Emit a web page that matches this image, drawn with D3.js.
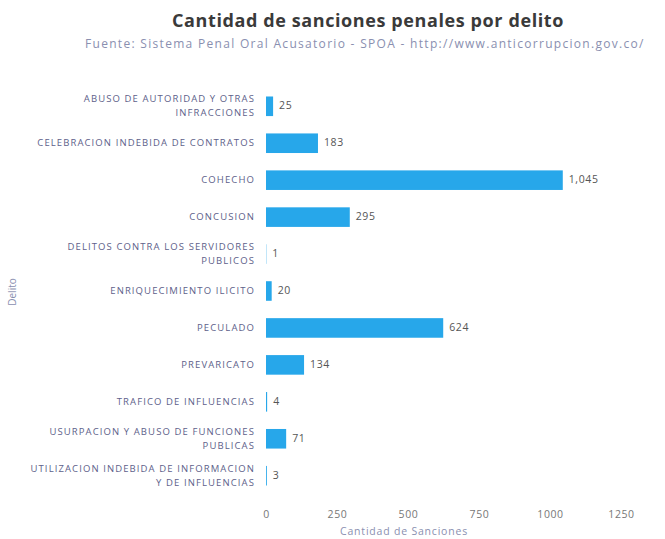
<!DOCTYPE html>
<html>
<head>
<meta charset="utf-8">
<script src="https://cdn.jsdelivr.net/npm/d3@7"></script>
<style>
  body { margin: 0; background: #fff; }
  svg { font-family: "Open Sans", "DejaVu Sans", sans-serif; }
</style>
</head>
<body>
<svg id="chart" width="665" height="539"></svg>
<script>
// Sanciones penales por delito
const categories = [
    'ABUSO DE AUTORIDAD Y OTRAS INFRACCIONES',
    'CELEBRACION INDEBIDA DE CONTRATOS',
    'COHECHO',
    'CONCUSION',
    'DELITOS CONTRA LOS SERVIDORES PUBLICOS',
    'ENRIQUECIMIENTO ILICITO',
    'PECULADO',
    'PREVARICATO',
    'TRAFICO DE INFLUENCIAS',
    'USURPACION Y ABUSO DE FUNCIONES PUBLICAS',
    'UTILIZACION INDEBIDA DE INFORMACION Y DE INFLUENCIAS'
];
const sanciones = [25, 183, 1045, 295, 1, 20, 624, 134, 4, 71, 3];
const xTicks = [0, 250, 500, 750, 1000, 1250];

const svg = d3.select('#chart');
const width = 665;
const height = 539;
const margin = { top: 88, right: 44, bottom: 45, left: 266 };
const plotWidth = width - margin.left - margin.right;
const plotHeight = height - margin.top - margin.bottom;
const barColor = '#27a7ea';
const labelColor = '#5e5f8a';

// Title + subtitle
svg.append('text')
    .attr('x', 368)
    .attr('y', 27)
    .attr('text-anchor', 'middle')
    .attr('font-size', '18px')
    .attr('font-weight', 'bold')
    .attr('letter-spacing', '0.6px')
    .attr('fill', '#3a3a3a')
    .text('Cantidad de sanciones penales por delito');

svg.append('text')
    .attr('x', 85)
    .attr('y', 48)
    .attr('font-size', '12px')
    .attr('letter-spacing', '1.3px')
    .attr('fill', '#8a8fb0')
    .text('Fuente: Sistema Penal Oral Acusatorio - SPOA - http://www.anticorrupcion.gov.co/');

const g = svg.append('g')
    .attr('transform', `translate(${margin.left}, ${margin.top})`);

const xScale = d3.scaleLinear()
    .domain([0, 1250])
    .range([0, plotWidth]);

const yScale = d3.scaleBand()
    .domain(categories)
    .range([0, plotHeight])
    .paddingInner(0.47)
    .paddingOuter(0.23);

// x axis (labels only)
const xAxis = g.append('g')
    .attr('transform', `translate(0, ${plotHeight})`)
    .call(d3.axisBottom(xScale).tickValues(xTicks).tickFormat(d3.format('d')).tickSize(0).tickPadding(17));
xAxis.select('.domain').remove();
xAxis.selectAll('text')
    .attr('font-family', '"Open Sans", sans-serif')
    .attr('font-size', '10.5px')
    .attr('letter-spacing', '0.6px')
    .attr('fill', '#777');

g.append('text')
    .attr('x', xScale(500) - 4)
    .attr('y', plotHeight + 41)
    .attr('text-anchor', 'middle')
    .attr('font-size', '10.5px')
    .attr('letter-spacing', '0.8px')
    .attr('fill', '#8a8fb0')
    .text('Cantidad de Sanciones');

// y axis title
svg.append('text')
    .attr('transform', 'rotate(-90)')
    .attr('x', -292)
    .attr('y', 16)
    .attr('text-anchor', 'middle')
    .attr('font-size', '10px')
    .attr('fill', '#8a8fb0')
    .text('Delito');

// category labels, wrapped
const maxLabelWidth = 232;
const catLabels = g.append('g');
categories.forEach(cat => {
    const t = catLabels.append('text')
        .attr('x', -11)
        .attr('text-anchor', 'end')
        .attr('font-size', '9.5px')
        .attr('letter-spacing', '1.1px')
        .attr('fill', labelColor);
    const words = cat.split(' ');
    const lines = [];
    let line = [];
    const probe = t.append('tspan');
    words.forEach(w => {
        line.push(w);
        probe.text(line.join(' '));
        if (probe.node().getComputedTextLength() > maxLabelWidth && line.length > 1) {
            line.pop();
            lines.push(line.join(' '));
            line = [w];
        }
    });
    lines.push(line.join(' '));
    probe.remove();
    const lh = 14;
    const cy = yScale(cat) + yScale.bandwidth() / 2;
    lines.forEach((l, i) => {
        t.append('tspan')
            .attr('x', -11)
            .attr('y', cy + 3 + (i - (lines.length - 1) / 2) * lh)
            .text(l);
    });
});

// bars
g.selectAll('.bar')
    .data(sanciones)
    .enter().append('rect')
    .attr('class', 'bar')
    .attr('x', 0)
    .attr('y', (d, i) => yScale(categories[i]))
    .attr('width', d => xScale(d))
    .attr('height', yScale.bandwidth())
    .attr('fill', barColor);

// value labels
g.selectAll('.val')
    .data(sanciones)
    .enter().append('text')
    .attr('class', 'val')
    .attr('x', d => xScale(d) + 6)
    .attr('y', (d, i) => yScale(categories[i]) + yScale.bandwidth() / 2 + 3)
    .attr('font-size', '10.5px')
    .attr('letter-spacing', '0.6px')
    .attr('fill', '#555')
    .text(d => d3.format(',')(d));
</script>
</body>
</html>
